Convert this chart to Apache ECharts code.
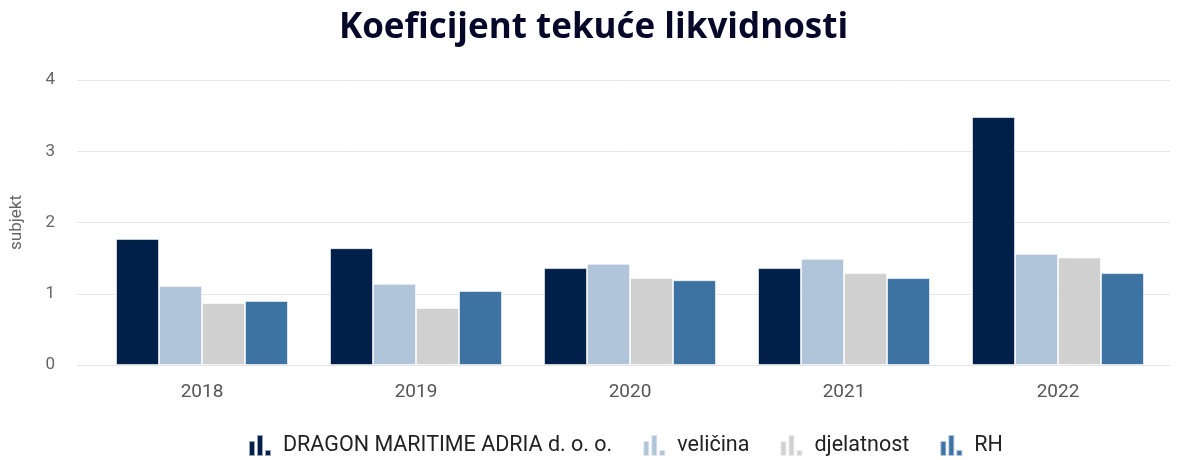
<!DOCTYPE html>
<html lang="hr">
<head>
    <meta charset="UTF-8">
    <title>Koeficijent tekuće likvidnosti</title>
    <script src="https://cdn.jsdelivr.net/npm/echarts@6/dist/echarts.min.js"></script>
</head>
<style>
    html,body{
        margin:0;
        padding:0;
        background:#fff;
    }
    #chart{
        width:1187px;
        height:460px;
    }
</style>
<body>
    <div id="chart"></div>
</body>
</html>

<script>
    let years=['2018','2019','2020','2021','2022'];
    let subjekt=[1.77,1.64,1.36,1.36,3.48];
    let velicina=[1.11,1.14,1.42,1.49,1.56];
    let djelatnost=[0.87,0.80,1.22,1.29,1.51];
    let rh=[0.90,1.04,1.19,1.22,1.29];
    let names=['DRAGON MARITIME ADRIA d. o. o.','veličina','djelatnost','RH'];
    let colors=['#00204a','#b0c4da','#d0d0d0','#3d73a3'];

    // ikona u legendi: tri stupca
    let icon='path://M0,7h6v15h-6z M8,1h6v21h-6z M16,16h6v6h-6z';

    let chart=echarts.init(document.getElementById('chart'));
    let font='Roboto';

    let series=[subjekt,velicina,djelatnost,rh].map(function(d,i){
        return {
            name:names[i],
            type:'bar',
            xAxisIndex:1,
            yAxisIndex:1,
            data:d,
            barWidth:43,
            barGap:'0%',
            itemStyle:{
                color:colors[i],
                borderColor:'rgba(255,255,255,0.6)',
                borderWidth:1
            }
        };
    });

    chart.setOption({
        animation:false,
        title:{
            text:'Koeficijent tekuće likvidnosti',
            left:'center',
            top:6,
            textStyle:{
                fontFamily:'Open Sans',
                fontWeight:'bold',
                fontSize:35,
                color:'#07072a'
            }
        },
        legend:{
            left:243,
            top:429,
            icon:icon,
            itemWidth:22,
            itemHeight:22,
            itemGap:30,
            data:names,
            textStyle:{
                fontFamily:font,
                fontSize:21.5,
                color:'#222',
                padding:[0,0,0,7]
            }
        },
        grid:[
            {left:76,right:17,top:80,bottom:95},
            {left:95,right:22,top:80,bottom:95}
        ],
        xAxis:[
            {
                type:'value',
                gridIndex:0,
                show:false,
                min:0,
                max:1
            },
            {
                type:'category',
                gridIndex:1,
                data:years,
                axisLine:{show:false},
                axisTick:{show:false},
                axisLabel:{
                    fontFamily:font,
                    fontSize:19,
                    color:'#555',
                    margin:18
                }
            }
        ],
        yAxis:[
            {
                type:'value',
                gridIndex:0,
                min:0,
                max:4,
                interval:1,
                name:'subjekt',
                nameLocation:'middle',
                nameGap:52,
                nameTextStyle:{
                    fontFamily:font,
                    fontSize:17,
                    color:'#666'
                },
                axisLine:{show:false},
                axisTick:{show:false},
                axisLabel:{
                    fontFamily:font,
                    fontSize:17,
                    color:'#666',
                    margin:22
                },
                splitLine:{lineStyle:{color:'#e6e6e6',width:1}}
            },
            {
                type:'value',
                gridIndex:1,
                min:0,
                max:4,
                interval:1,
                show:false,
                splitLine:{show:false}
            }
        ],
        series:series
    });
</script>
